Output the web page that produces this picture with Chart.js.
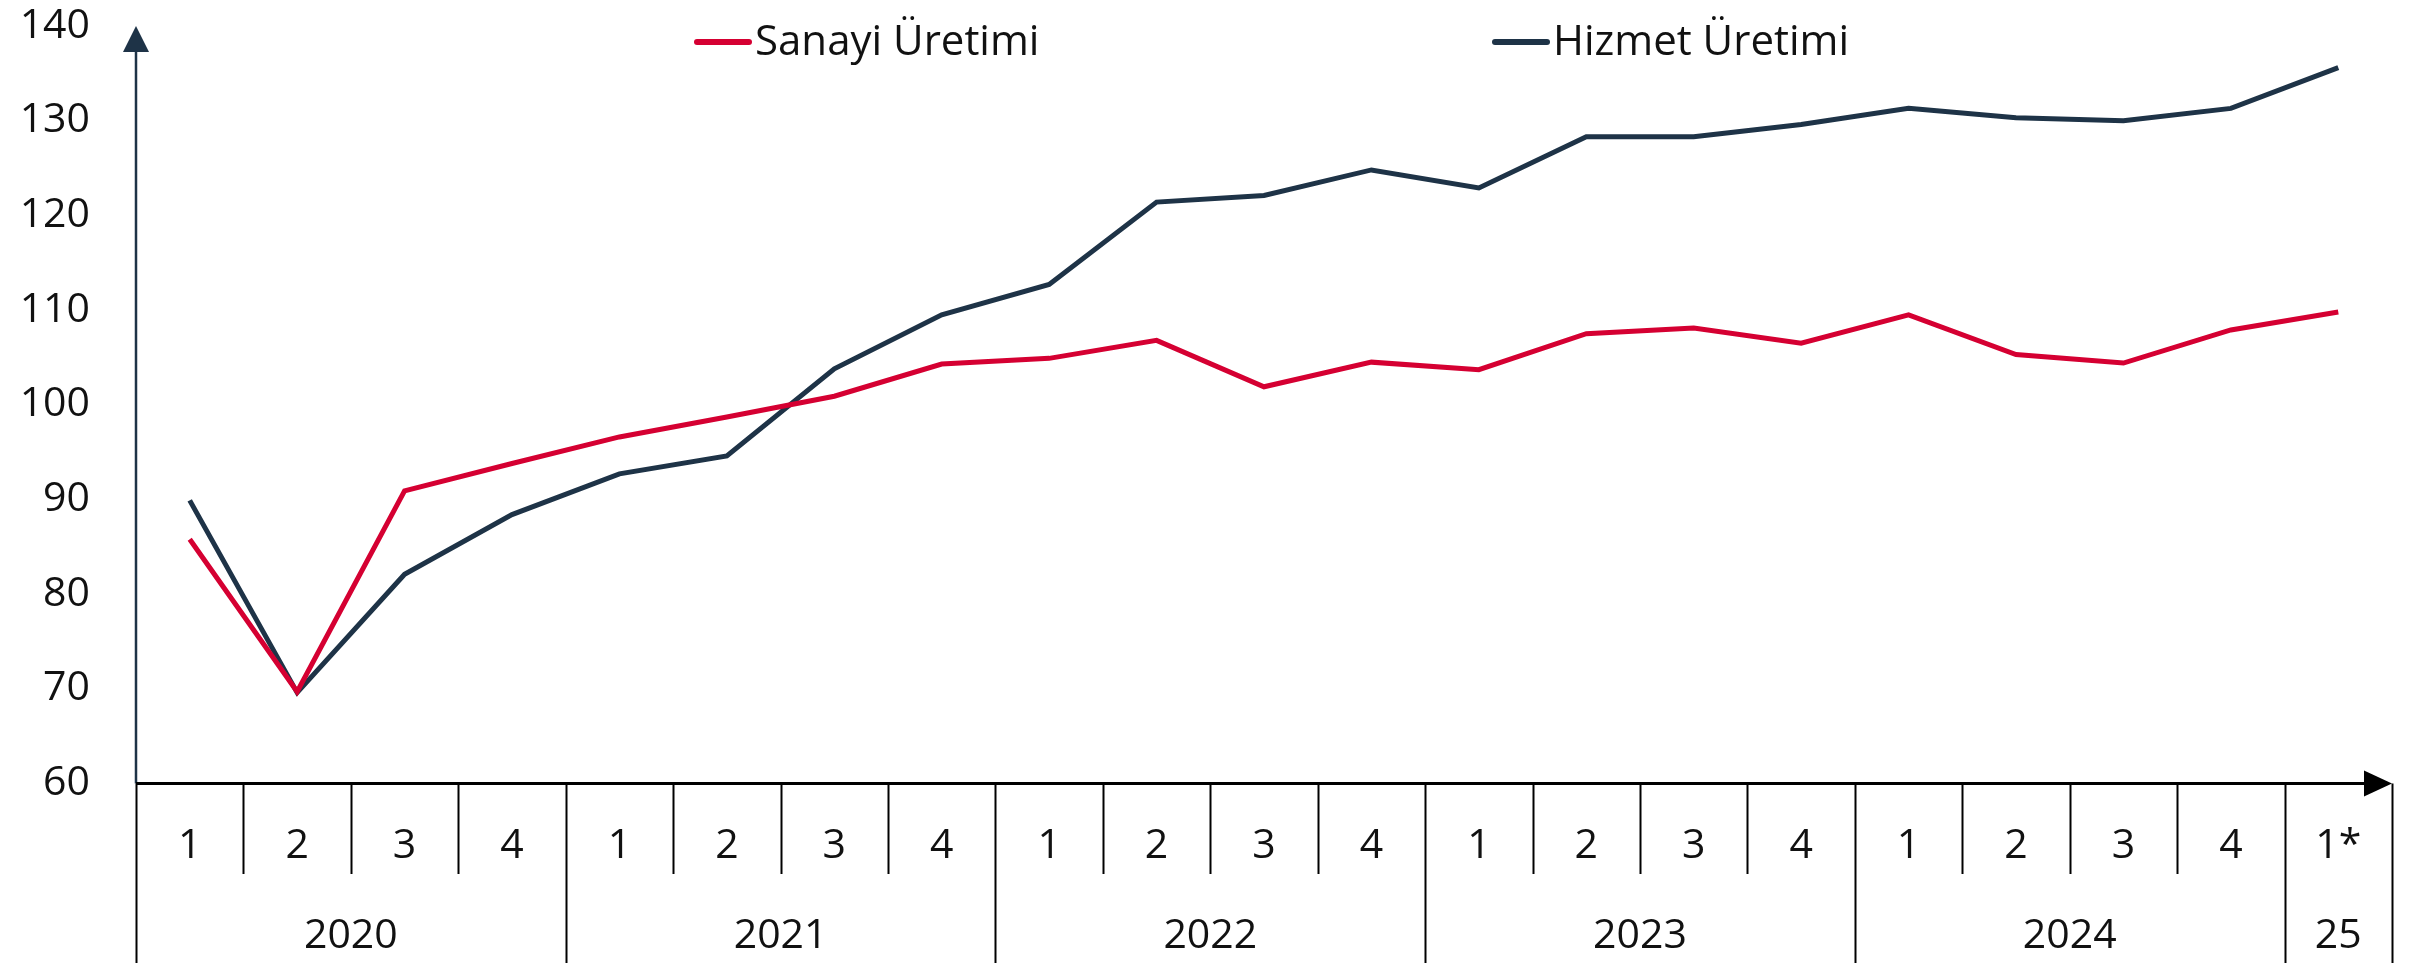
<!DOCTYPE html>
<html lang="tr">
<head>
<meta charset="utf-8">
<title>Sanayi ve Hizmet Üretimi</title>
<script src="https://cdn.jsdelivr.net/npm/chart.js@4.4.1/dist/chart.umd.min.js"></script>
<style>
    html, body { margin: 0; padding: 0; background: #ffffff; }
    #wrap { width: 2428px; height: 966px; position: relative; }
</style>
</head>
<body>
<div id="wrap"><canvas id="uretimChart"></canvas></div>
<script>
// Çeyrek etiketleri ve yıllar
const quarters = ['1', '2', '3', '4', '1', '2', '3', '4', '1', '2', '3', '4',
    '1', '2', '3', '4', '1', '2', '3', '4', '1*'];
const years = ['2020', '2021', '2022', '2023', '2024', '25'];
const yearSpans = [4, 4, 4, 4, 4, 1];

// Seriler
const sanayi = [85.8, 69.7, 90.9, 93.8, 96.6, 98.7, 100.9, 104.3, 104.9, 106.8, 101.9,
    104.5, 103.7, 107.5, 108.1, 106.5, 109.5, 105.3, 104.4, 107.9, 109.8];
const hizmet = [89.9, 69.6, 82.1, 88.4, 92.7, 94.6, 103.8, 109.5, 112.7, 121.4, 122.1,
    124.8, 122.9, 128.3, 128.3, 129.6, 131.3, 130.3, 130.0, 131.3, 135.6];

const yMin = 60;
const yMax = 140;
const yStep = 10;

const RED = '#d50032';
const NAVY = '#1e3347';
const FONT = "'Open Sans', sans-serif";

Chart.defaults.font.family = FONT;

// Eksenler, oklar, ayraçlar ve lejant
const axisPlugin = {
    id: 'axisPlugin',
    afterDatasetsDraw(chart) {
        const ctx = chart.ctx;
        const area = chart.chartArea;
        const x = chart.scales.x;
        const n = quarters.length;
        const bottom = area.bottom;

        ctx.save();

        // y ekseni + ok
        ctx.strokeStyle = NAVY;
        ctx.fillStyle = NAVY;
        ctx.lineWidth = 2.5;
        ctx.beginPath();
        ctx.moveTo(area.left, bottom);
        ctx.lineTo(area.left, area.top + 20);
        ctx.stroke();
        ctx.beginPath();
        ctx.moveTo(area.left, area.top);
        ctx.lineTo(area.left - 13, area.top + 26);
        ctx.lineTo(area.left + 13, area.top + 26);
        ctx.closePath();
        ctx.fill();

        // x ekseni + ok
        ctx.strokeStyle = '#000000';
        ctx.fillStyle = '#000000';
        ctx.lineWidth = 3;
        ctx.beginPath();
        ctx.moveTo(area.left, bottom);
        ctx.lineTo(area.right - 20, bottom);
        ctx.stroke();
        ctx.beginPath();
        ctx.moveTo(area.right, bottom);
        ctx.lineTo(area.right - 28, bottom - 13);
        ctx.lineTo(area.right - 28, bottom + 13);
        ctx.closePath();
        ctx.fill();

        // ayraçlar
        const edge = (i) => {
            if (i <= 0) return area.left;
            if (i >= n) return area.right;
            return (x.getPixelForValue(i - 1) + x.getPixelForValue(i)) / 2;
        };
        const yearEdges = [0];
        yearSpans.forEach((s, k) => yearEdges.push(yearEdges[k] + s));

        ctx.lineWidth = 2;
        for (let i = 0; i <= n; i++) {
            const xe = Math.round(edge(i)) + 0.5;
            const isYear = yearEdges.includes(i);
            ctx.beginPath();
            ctx.moveTo(xe, bottom);
            ctx.lineTo(xe, isYear ? 963 : 874);
            ctx.stroke();
        }

        // çeyrek ve yıl etiketleri
        ctx.font = '41px ' + FONT;
        ctx.fillStyle = '#111111';
        ctx.textAlign = 'center';
        ctx.textBaseline = 'middle';
        quarters.forEach((q, i) => {
            ctx.fillText(q, x.getPixelForValue(i), 846);
        });
        years.forEach((yr, k) => {
            const cx = (edge(yearEdges[k]) + edge(yearEdges[k + 1])) / 2;
            ctx.fillText(yr, cx, 936);
        });

        // lejant
        ctx.font = '42px ' + FONT;
        chart.data.datasets.forEach((ds, k) => {
            const lx = k === 0 ? 697 : 1495;
            ctx.strokeStyle = ds.borderColor;
            ctx.lineWidth = 6;
            ctx.lineCap = 'round';
            ctx.beginPath();
            ctx.moveTo(lx, 42);
            ctx.lineTo(lx + 52, 42);
            ctx.stroke();
            ctx.fillStyle = '#111111';
            ctx.textAlign = 'left';
            ctx.textBaseline = 'alphabetic';
            ctx.fillText(ds.label, lx + 58, 55);
        });

        ctx.restore();
    }
};

function createChart() {
    const ctx = document.getElementById('uretimChart').getContext('2d');
    return new Chart(ctx, {
        type: 'line',
        data: {
            labels: quarters,
            datasets: [{
                label: 'Sanayi Üretimi',
                data: sanayi,
                borderColor: RED,
                backgroundColor: RED,
                borderWidth: 5,
                pointRadius: 0,
                tension: 0,
                fill: false
            }, {
                label: 'Hizmet Üretimi',
                data: hizmet,
                borderColor: NAVY,
                backgroundColor: NAVY,
                borderWidth: 5,
                pointRadius: 0,
                tension: 0,
                fill: false
            }]
        },
        options: {
            responsive: true,
            maintainAspectRatio: false,
            animation: false,
            layout: {
                padding: { top: 26, right: 36, left: 0, bottom: 0 }
            },
            scales: {
                x: {
                    type: 'category',
                    offset: true,
                    grid: { display: false, drawTicks: false },
                    border: { display: false },
                    ticks: { display: false },
                    afterFit: (scale) => {
                        scale.height = 182.5;
                        scale.paddingLeft = 0;
                        scale.paddingRight = 0;
                    }
                },
                y: {
                    min: yMin,
                    max: yMax,
                    grid: { display: false, drawTicks: false },
                    border: { display: false },
                    ticks: {
                        stepSize: yStep,
                        padding: 46,
                        color: '#111111',
                        font: { size: 41, family: FONT }
                    },
                    afterFit: (scale) => {
                        scale.width = 136;
                        scale.paddingTop = 0;
                        scale.paddingBottom = 0;
                    }
                }
            },
            plugins: {
                legend: { display: false },
                tooltip: { enabled: false }
            }
        },
        plugins: [axisPlugin]
    });
}

document.addEventListener('DOMContentLoaded', () => {
    createChart();
});
</script>
</body>
</html>
